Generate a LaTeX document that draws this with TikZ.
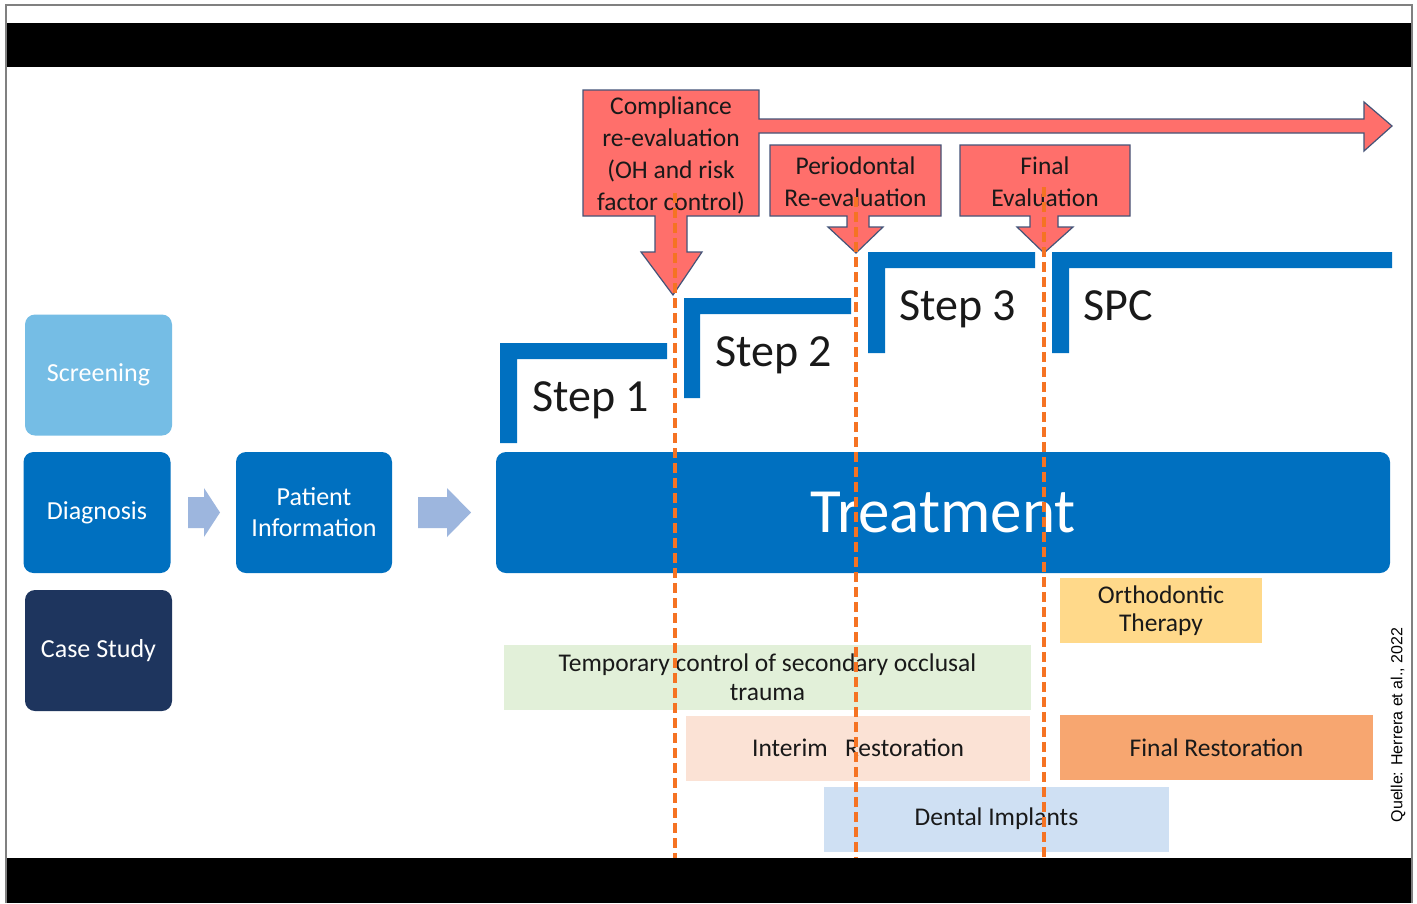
\documentclass[tikz,border=0pt]{standalone}
\usepackage{fontspec}
\setmainfont{Carlito}
\newfontfamily\quellefont{Liberation Sans}
\definecolor{screenblue}{RGB}{117,189,229}
\definecolor{mainblue}{RGB}{0,112,192}
\definecolor{navy}{RGB}{30,53,94}
\definecolor{arrowblue}{RGB}{157,182,222}
\definecolor{calloutred}{RGB}{255,111,107}
\definecolor{calloutline}{RGB}{68,84,120}
\definecolor{dashorange}{RGB}{245,115,35}
\definecolor{lightgreen}{RGB}{226,240,217}
\definecolor{peach}{RGB}{251,226,213}
\definecolor{finalorange}{RGB}{247,166,112}
\definecolor{lightyellow}{RGB}{255,217,138}
\definecolor{lightblue}{RGB}{207,224,243}
\definecolor{framegray}{RGB}{128,128,128}
\begin{document}
\begin{tikzpicture}[x=1pt,y=-1pt,
  lbox/.style={rounded corners=10pt, minimum width=147pt, minimum height=121pt,
    text=white, font=\fontsize{26}{31}\selectfont, align=center, inner sep=0pt},
  bbox/.style={minimum height=65pt, inner sep=0pt, text=black!90,
    font=\fontsize{25.5}{28.5}\selectfont, align=center},
  callout/.style={fill=calloutred, draw=calloutline, line width=1.2pt, line join=miter},
  callouttext/.style={font=\fontsize{25.5}{32}\selectfont, align=center, inner sep=0pt, text=black!90},
  steptext/.style={font=\fontsize{46}{50}\selectfont, anchor=base west, inner sep=0pt, text=black!90},
  bracket/.style={fill=mainblue},
  blockarrow/.style={fill=arrowblue},
  dashline/.style={draw=dashorange, line width=3.5pt, dash pattern=on 10pt off 5pt}
]
\useasboundingbox (0,0) rectangle (1417,903);
\fill[white] (0,0) rectangle (1417,903);

% frame and black bands
\fill[black] (6,23) rectangle (1412,67);
\fill[black] (6,858) rectangle (1412,903);
\draw[framegray, line width=1.5pt] (6,903) -- (6,5) -- (1412,5) -- (1412,903);

% left blocks
\node[lbox, fill=screenblue] (screen) at (98.5,375) {Screening};
\node[lbox, fill=mainblue] (diag) at (97,512.5) {Diagnosis};
\node[lbox, fill=navy] (case) at (98.5,650.5) {Case Study};
\node[lbox, fill=mainblue, minimum width=156pt] (pat) at (314,512.5) {Patient\\Information};

% block arrows
\fill[blockarrow] (188,497) -- (204,497) -- (204,488) -- (220,512.5) -- (204,537) -- (204,528) -- (188,528) -- cycle;
\fill[blockarrow] (418,497) -- (447,497) -- (447,488) -- (471,512.5) -- (447,537) -- (447,528) -- (418,528) -- cycle;

% treatment
\node[lbox, fill=mainblue, minimum width=894pt, font=\fontsize{63}{70}\selectfont] (treat) at (943,512.5) {Treatment};

% step brackets
\fill[bracket] (500,343) -- (667,343) -- (667,359) -- (517,359) -- (517,443) -- (500,443) -- cycle;
\fill[bracket] (684,298) -- (851,298) -- (851,314) -- (700,314) -- (700,398) -- (684,398) -- cycle;
\fill[bracket] (868,252) -- (1035,252) -- (1035,268) -- (885,268) -- (885,353) -- (868,353) -- cycle;
\fill[bracket] (1052,252) -- (1392,252) -- (1392,268) -- (1069,268) -- (1069,353) -- (1052,353) -- cycle;
\node[steptext] (s1) at (532,411) {Step 1};
\node[steptext] (s2) at (715,366) {Step 2};
\node[steptext] (s3) at (899,320) {Step 3};
\node[steptext] (spc) at (1083,320) {SPC};

% callouts
\path[callout] (583,90) -- (759,90) -- (759,119) -- (1364,119) -- (1364,102) -- (1392,126)
  -- (1364,151) -- (1364,133) -- (759,133) -- (759,216) -- (687,216) -- (687,252)
  -- (702,252) -- (673,295) -- (641,252) -- (655,252) -- (655,216) -- (583,216) -- cycle;
\path[callout] (770,145) -- (941,145) -- (941,216) -- (869,216) -- (869,227) -- (883,227)
  -- (856,253) -- (828,227) -- (847,227) -- (847,216) -- (770,216) -- cycle;
\path[callout] (960,145) -- (1130,145) -- (1130,216) -- (1058,216) -- (1058,227) -- (1073,227)
  -- (1044,253) -- (1017,227) -- (1030,227) -- (1030,216) -- (960,216) -- cycle;
\node[callouttext] (comp) at (671,155) {Compliance\\re-evaluation\\(OH and risk\\factor control)};
\node[callouttext] (perio) at (855.5,182) {Periodontal\\Re-evaluation};
\node[callouttext] (final) at (1045,182) {Final\\Evaluation};

% bottom boxes
\node[bbox, fill=lightyellow, minimum width=202pt] (ortho) at (1161,610.5) {Orthodontic\\Therapy};
\node[bbox, fill=lightgreen, minimum width=527pt] (temp) at (767.5,677) {Temporary control of secondary occlusal\\trauma};
\node[bbox, fill=peach, minimum width=344pt] (interim) at (858,748) {Interim\ \ \ Restoration};
\node[bbox, fill=finalorange, minimum width=313pt] (finrest) at (1216.5,747.5) {Final Restoration};
\node[bbox, fill=lightblue, minimum width=345pt] (implants) at (996.5,819) {Dental Implants};

% dashed lines
\coordinate (d1top) at (675,193);
\coordinate (d1bot) at (675,858);
\coordinate (d2top) at (856,197);
\coordinate (d2bot) at (856,858);
\coordinate (d3top) at (1044,187);
\coordinate (d3bot) at (1044,858);
\draw[dashline] (d1top) -- (d1bot);
\draw[dashline] (d2top) -- (d2bot);
\draw[dashline] (d3top) -- (d3bot);

% source
\node[rotate=90, font=\quellefont\fontsize{16}{18}\selectfont, inner sep=0pt] (quelle) at (1398,725) {Quelle: Herrera et al., 2022};
\end{tikzpicture}
\end{document}
